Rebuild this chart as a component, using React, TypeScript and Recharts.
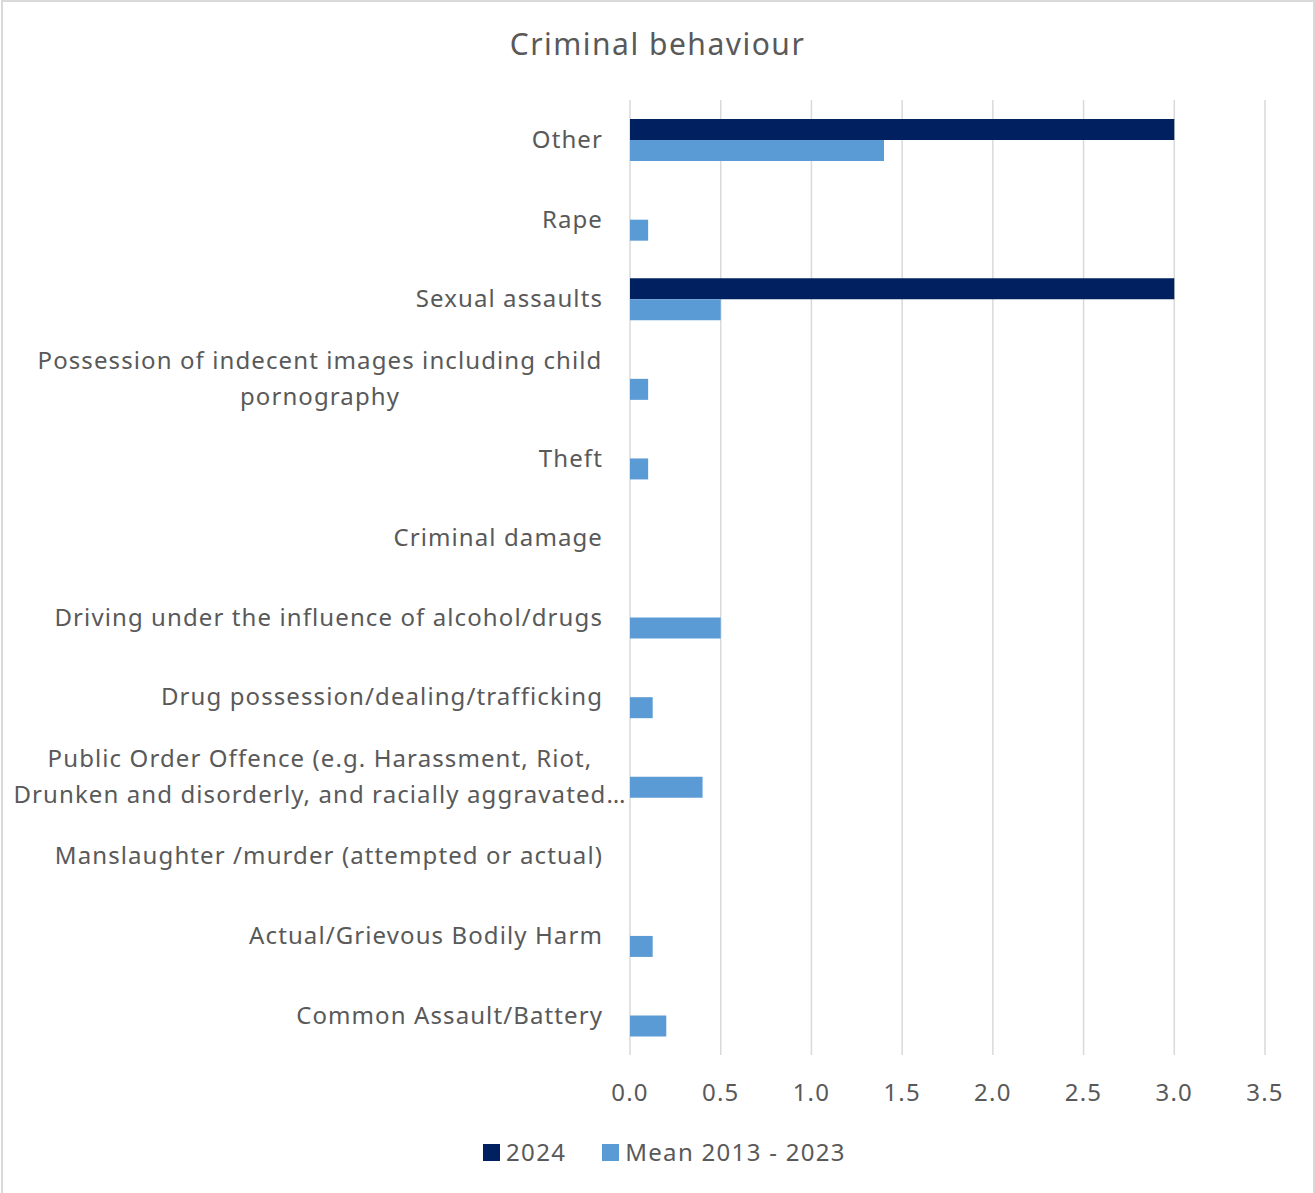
import React from 'react';
import { BarChart, Bar, XAxis, YAxis, CartesianGrid, Legend } from 'recharts';

const categories = [
  'Other',
  'Rape',
  'Sexual assaults',
  'Possession of indecent images including child pornography',
  'Theft',
  'Criminal damage',
  'Driving under the influence of alcohol/drugs',
  'Drug possession/dealing/trafficking',
  'Public Order Offence (e.g. Harassment, Riot, Drunken and disorderly, and racially aggravated…',
  'Manslaughter /murder (attempted or actual)',
  'Actual/Grievous Bodily Harm',
  'Common Assault/Battery',
];

const labelLines: string[][] = [
  ['Other'],
  ['Rape'],
  ['Sexual assaults'],
  ['Possession of indecent images including child', 'pornography'],
  ['Theft'],
  ['Criminal damage'],
  ['Driving under the influence of alcohol/drugs'],
  ['Drug possession/dealing/trafficking'],
  ['Public Order Offence (e.g. Harassment, Riot,', 'Drunken and disorderly, and racially aggravated…'],
  ['Manslaughter /murder (attempted or actual)'],
  ['Actual/Grievous Bodily Harm'],
  ['Common Assault/Battery'],
];

const values2024 = [3, 0, 3, 0, 0, 0, 0, 0, 0, 0, 0, 0];
const valuesMean = [1.4, 0.1, 0.5, 0.1, 0.1, 0, 0.5, 0.125, 0.4, 0, 0.125, 0.2];

const xTicks = [0, 0.5, 1, 1.5, 2, 2.5, 3, 3.5];

const seriesNames = ['2024', 'Mean 2013 - 2023'];
const colors = ['#002060', '#5B9BD5'];

const data = categories.map((c, i) => ({
  category: c,
  y2024: values2024[i],
  mean: valuesMean[i],
}));

const FONT = '"Noto Sans", sans-serif';
const TEXT = '#595959';
const LS = 1.1;

const YTick = (props: any) => {
  const { x, y, index } = props;
  const lines = labelLines[index] || [props.payload.value];
  if (lines.length === 1) {
    return (
      <text x={x} y={y} dy="0.35em" textAnchor="end" fill={TEXT} fontSize={24} fontFamily={FONT} letterSpacing={LS}>
        {lines[0]}
      </text>
    );
  }
  const cx = x - 283;
  return (
    <text x={cx} y={y} textAnchor="middle" fill={TEXT} fontSize={24} fontFamily={FONT} letterSpacing={LS}>
      {lines.map((l, i) => (
        <tspan key={i} x={cx} y={y + (i - (lines.length - 1) / 2) * 36} dy="0.35em">
          {l}
        </tspan>
      ))}
    </text>
  );
};

const LegendContent = () => (
  <div style={{ height: 60, display: 'flex', justifyContent: 'center', alignItems: 'flex-start', paddingTop: 8, paddingLeft: 64, boxSizing: 'border-box', fontFamily: FONT, fontSize: 24, color: TEXT, letterSpacing: 1.3 }}>
    {seriesNames.map((n, i) => (
      <div key={n} style={{ display: 'flex', alignItems: 'center', marginLeft: i ? 36 : 0, height: 22 }}>
        <span style={{ width: 17, height: 17, background: colors[i], display: 'inline-block', marginRight: 6 }} />
        <span style={{ lineHeight: '22px' }}>{n}</span>
      </div>
    ))}
  </div>
);

export default function App() {
  return (
    <div style={{ position: 'absolute', left: 0, top: 0, width: 1315, height: 1193, overflow: 'hidden', background: '#fff' }}>
      <div style={{ position: 'absolute', left: 1, top: 0, width: 1310, height: 1250, border: '2px solid #d9d9d9' }} />
      <div style={{ position: 'absolute', left: 0, top: 22, width: 1315, textAlign: 'center', fontFamily: FONT, fontSize: 30, color: TEXT, lineHeight: '44px', letterSpacing: 1.5 }}>
        Criminal behaviour
      </div>
      <div style={{ position: 'absolute', left: 0, top: 0 }}>
        <BarChart
          width={1315}
          height={1193}
          data={data}
          layout="vertical"
          margin={{ top: 100, right: 50, bottom: 0, left: 0 }}
          barCategoryGap="24%"
          barGap={0}
        >
          <CartesianGrid horizontal={false} stroke="#d9d9d9" strokeWidth={1.5} />
          <XAxis
            type="number"
            domain={[0, 3.5]}
            ticks={xTicks}
            tickFormatter={(v: number) => v.toFixed(1)}
            axisLine={false}
            tickLine={false}
            tickSize={0}
            tickMargin={29}
            height={78}
            tick={{ fill: TEXT, fontSize: 24, fontFamily: FONT, letterSpacing: 1.2 }}
          />
          <YAxis
            type="category"
            dataKey="category"
            width={630}
            axisLine={false}
            tickLine={false}
            tickSize={0}
            tickMargin={27}
            interval={0}
            tick={<YTick />}
          />
          <Legend verticalAlign="bottom" content={<LegendContent />} />
          <Bar dataKey="y2024" name={seriesNames[0]} fill={colors[0]} isAnimationActive={false} />
          <Bar dataKey="mean" name={seriesNames[1]} fill={colors[1]} isAnimationActive={false} />
        </BarChart>
      </div>
    </div>
  );
}
